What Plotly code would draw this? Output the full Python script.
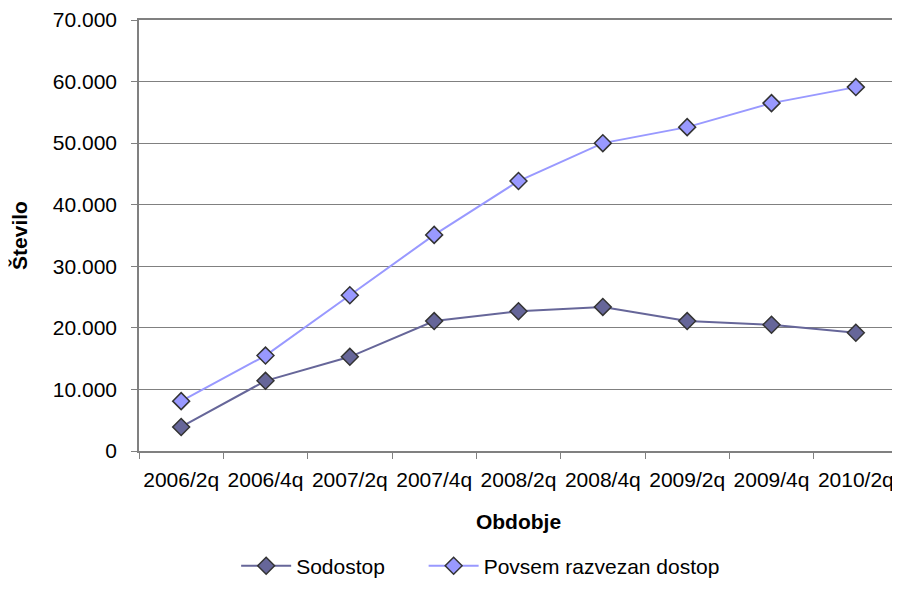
import plotly.graph_objects as go

categories = ["2006/2q", "2006/4q", "2007/2q", "2007/4q", "2008/2q",
              "2008/4q", "2009/2q", "2009/4q", "2010/2q"]
sodostop = [3900, 11400, 15300, 21100, 22700, 23400, 21100, 20500, 19200]
povsem = [8100, 15500, 25300, 35100, 43850, 50000, 52600, 56500, 59100]
y_tickvals = [0, 10000, 20000, 30000, 40000, 50000, 60000, 70000]
y_ticktext = ["0", "10.000", "20.000", "30.000", "40.000", "50.000", "60.000", "70.000"]

FONT = "Liberation Sans, Arial, sans-serif"
FS = 21

fig = go.Figure()
fig.add_trace(go.Scatter(
    x=categories, y=sodostop, name="Sodostop", mode="lines+markers",
    line=dict(color="#666699", width=2), legend="legend",
    marker=dict(symbol="diamond", size=13, color="#666699",
                line=dict(color="#333333", width=1.5)),
))
fig.add_trace(go.Scatter(
    x=categories, y=povsem, name="Povsem razvezan dostop", mode="lines+markers",
    line=dict(color="#9999FF", width=2), legend="legend2",
    marker=dict(symbol="diamond", size=13, color="#9999FF",
                line=dict(color="#333333", width=1.5)),
))

# page body has an 8px default margin, so the figure is sized 892x597
fig.update_layout(
    width=892, height=597,
    margin=dict(l=131, r=2, t=12, b=154, autoexpand=False),
    paper_bgcolor="white", plot_bgcolor="white",
    font=dict(family=FONT, size=FS, color="black"),
    showlegend=True,
    legend=dict(orientation="h", x=0.128, xanchor="left", y=-0.267, yanchor="middle",
                font=dict(size=FS), itemwidth=50),
    legend2=dict(orientation="h", x=0.375, xanchor="left", y=-0.267, yanchor="middle",
                 font=dict(size=FS), itemwidth=50),
    xaxis=dict(
        type="category", range=[-0.5, 8.5], tickson="boundaries",
        ticks="outside", ticklen=6, tickcolor="#808080", tickangle=0,
        showline=True, linecolor="#808080", linewidth=1.5, mirror=True,
        showgrid=False, tickfont=dict(size=FS), automargin=False,
        ticklabelstandoff=9,
        title=dict(text="<b>Obdobje</b>", font=dict(size=FS), standoff=24),
    ),
    yaxis=dict(
        range=[0, 70000], tickvals=y_tickvals, ticktext=y_ticktext,
        ticks="outside", ticklen=6, tickcolor="#808080",
        showline=True, linecolor="#808080", linewidth=1.5, mirror=True,
        showgrid=True, gridcolor="#808080", gridwidth=1.2,
        zeroline=False, tickfont=dict(size=FS), automargin=False,
        ticklabelstandoff=10,
        title=dict(text="<b>Število</b>", font=dict(size=FS), standoff=22),
    ),
)

fig.write_html("out.html")
